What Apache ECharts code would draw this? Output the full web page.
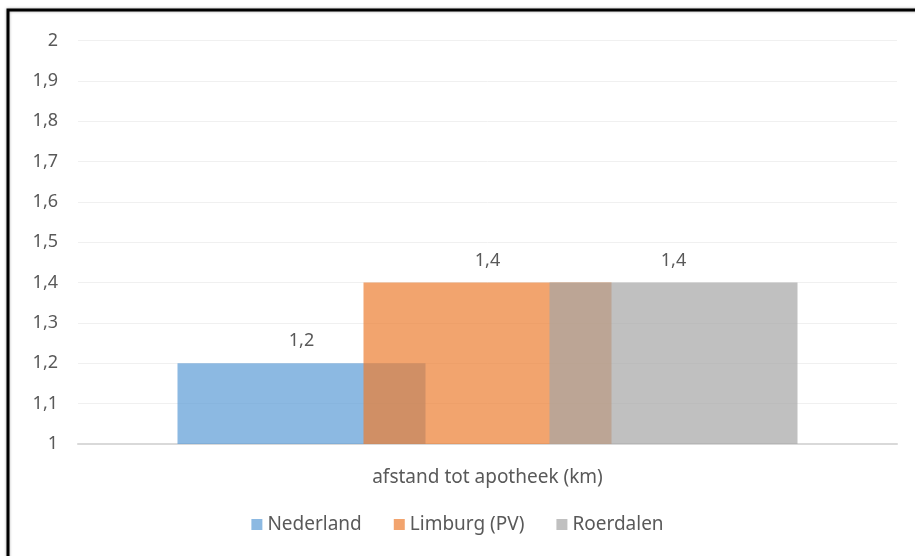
<!DOCTYPE html>
<html>
<head>
<meta charset="utf-8">
<script src="https://cdn.jsdelivr.net/npm/echarts@6/dist/echarts.min.js"></script>
<style>
  html, body { margin: 0; padding: 0; background: #fff; }
  #chart { width: 915px; height: 556px; }
</style>
</head>
<body>
<div id="chart"></div>
<script>
// Distance to the nearest pharmacy (km)
const categories = ['afstand tot apotheek (km)'];
const seriesNames = ['Nederland', 'Limburg (PV)', 'Roerdalen'];
const nederland = [1.2];
const limburg = [1.4];
const roerdalen = [1.4];
const seriesColors = ['rgba(91,155,213,0.7)', 'rgba(237,125,49,0.7)', 'rgba(165,165,165,0.7)'];

const FONT = "'Noto Sans', sans-serif";
const TEXT = '#595959';

function comma(v) {
  return String(Number(Number(v).toFixed(1))).replace('.', ',');
}

const chart = echarts.init(document.getElementById('chart'), null, { renderer: 'canvas' });

const values = [nederland, limburg, roerdalen];

chart.setOption({
  animation: false,
  backgroundColor: '#ffffff',
  textStyle: { fontFamily: FONT },
  graphic: [{
    type: 'rect',
    shape: { x: 8, y: 10, width: 930, height: 570 },
    style: { fill: 'none', stroke: '#000', lineWidth: 3, shadowBlur: 3, shadowColor: 'rgba(0,0,0,0.35)' },
    silent: true,
    z: 100
  }],
  grid: { left: 78, right: 18, top: 40.5, bottom: 112 },
  legend: {
    bottom: 17,
    left: 'center',
    itemWidth: 11,
    itemHeight: 11,
    itemGap: 32,
    icon: 'rect',
    textStyle: { color: TEXT, fontSize: 19, fontFamily: FONT },
    data: seriesNames
  },
  xAxis: {
    type: 'category',
    data: categories,
    axisLine: { lineStyle: { color: '#D9D9D9', width: 2 } },
    axisTick: { show: false },
    axisLabel: { color: TEXT, fontSize: 19, margin: 24, fontFamily: FONT }
  },
  yAxis: {
    type: 'value',
    min: 1,
    max: 2,
    interval: 0.1,
    axisLine: { show: false },
    axisTick: { show: false },
    splitLine: { lineStyle: { color: '#F0F0F0', width: 1 } },
    axisLabel: { color: TEXT, fontSize: 18, margin: 20, fontFamily: FONT, formatter: comma }
  },
  series: seriesNames.map((name, i) => ({
    name: name,
    type: 'bar',
    data: values[i],
    barWidth: 248,
    barGap: '-25%',
    itemStyle: { color: seriesColors[i] },
    label: {
      show: true,
      position: 'top',
      distance: 13,
      color: TEXT,
      fontSize: 18,
      fontFamily: FONT,
      formatter: p => comma(p.value)
    }
  }))
});
</script>
</body>
</html>
